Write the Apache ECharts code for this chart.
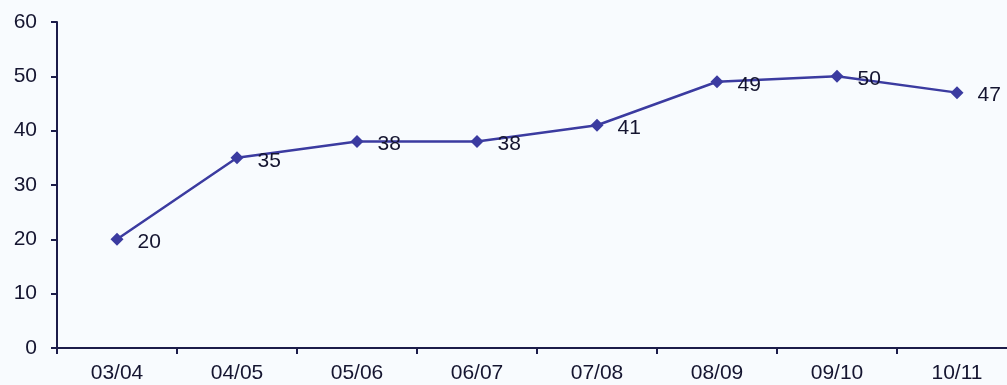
<!DOCTYPE html>
<html><head><meta charset="utf-8">
<script src="https://cdn.jsdelivr.net/npm/echarts@6/dist/echarts.min.js"></script>
<style>html,body{margin:0;padding:0;background:#f8fbfe;overflow:hidden;width:1007px;height:385px;}#c{width:1017px;height:385px;}</style>
</head><body><div id="c"></div>
<script>
const categories = ['03/04','04/05','05/06','06/07','07/08','08/09','09/10','10/11'];
const values = [20,35,38,38,41,49,50,47];
const yTicks = {min:0, max:60, interval:10};
const chart = echarts.init(document.getElementById('c'));
const axisColor = '#1c1c4a';
const font = 'Liberation Sans, Arial, sans-serif';
chart.setOption({
  backgroundColor:'#f8fbfe',
  animation:false,
  grid:{left:57, right:0, top:22, bottom:37, containLabel:false},
  xAxis:{type:'category', data:categories, boundaryGap:true,
    axisLine:{lineStyle:{color:axisColor,width:2}},
    axisTick:{show:true, alignWithLabel:false, length:6, lineStyle:{color:axisColor,width:2}},
    axisLabel:{color:'#151530', fontSize:21, fontFamily:font, margin:15},
    splitLine:{show:false}},
  yAxis:{type:'value', min:yTicks.min, max:yTicks.max, interval:yTicks.interval,
    axisLine:{show:true, lineStyle:{color:axisColor,width:2}},
    axisTick:{show:true, length:6, lineStyle:{color:axisColor,width:2}},
    axisLabel:{color:'#151530', fontSize:21, fontFamily:font, margin:20},
    splitLine:{show:false}},
  series:[{type:'line', data:values, symbol:'diamond', symbolSize:13,
    lineStyle:{color:'#3b3ba0', width:2.5},
    itemStyle:{color:'#3b3ba0'},
    label:{show:true, position:'right', distance:14, color:'#151530', fontSize:21,
      fontFamily:font, offset:[0,3]}}]
});
</script></body></html>
